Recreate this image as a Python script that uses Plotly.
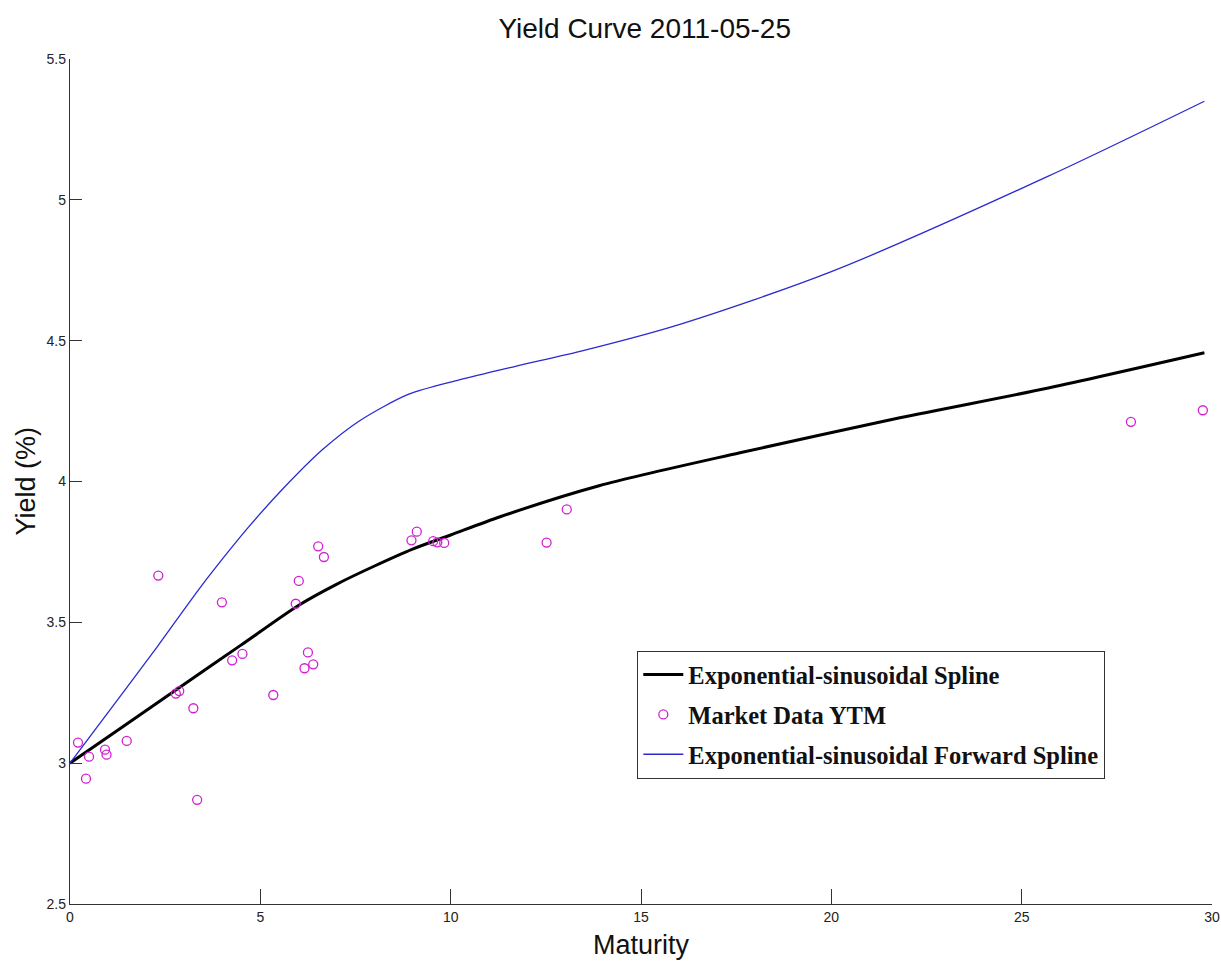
import plotly.graph_objects as go

# Market yields to maturity (years, %)
market_maturity = [0.21, 0.42, 0.50, 0.92, 0.96, 1.49, 2.32, 2.78, 2.87, 3.24, 3.34,
                   3.99, 4.26, 4.53, 5.34, 5.93, 6.01, 6.16, 6.25, 6.39, 6.52, 6.67,
                   8.97, 9.11, 9.54, 9.65, 9.83, 12.52, 13.05, 27.87, 29.76]
market_ytm = [3.073, 2.945, 3.023, 3.048, 3.030, 3.079, 3.666, 3.247, 3.256, 3.195, 2.870,
              3.571, 3.365, 3.388, 3.242, 3.566, 3.647, 3.337, 3.393, 3.351, 3.770, 3.732,
              3.791, 3.822, 3.788, 3.784, 3.782, 3.783, 3.901, 4.212, 4.253]

# Fitted exponential-sinusoidal spot curve
spot_maturity = [0.0, 1.5, 3.0, 4.5, 6.0, 7.0, 8.0, 9.0, 10.0, 11.3, 13.9, 17.6,
                 21.8, 25.7, 29.8]
spot_yield = [3.000, 3.140, 3.280, 3.420, 3.560, 3.635, 3.700, 3.760, 3.810, 3.875,
              3.985, 4.102, 4.226, 4.332, 4.457]

# Fitted exponential-sinusoidal forward curve
fwd_maturity = [0.0, 1.5, 2.3, 3.4, 4.2, 4.7, 5.6, 6.65, 7.6, 8.9, 10.2, 11.7, 13.4,
                16.0, 20.0, 25.7, 29.8]
fwd_yield = [3.000, 3.270, 3.415, 3.620, 3.758, 3.840, 3.975, 4.115, 4.215, 4.310,
             4.360, 4.409, 4.462, 4.557, 4.745, 5.084, 5.350]

x_ticks = [0, 5, 10, 15, 20, 25, 30]
y_ticks = [2.5, 3, 3.5, 4, 4.5, 5, 5.5]

fig = go.Figure()

fig.add_trace(go.Scatter(
    x=spot_maturity, y=spot_yield, mode="lines",
    name="Exponential-sinusoidal Spline", legendgroup="a",
    line=dict(color="black", width=3, shape="spline", smoothing=0.8),
))
fig.add_trace(go.Scatter(
    x=market_maturity, y=market_ytm, mode="markers",
    name="Market Data YTM", legendgroup="b",
    marker=dict(symbol="circle-open", size=9, color="#d020d0", line=dict(width=1.3)),
))
fig.add_trace(go.Scatter(
    x=fwd_maturity, y=fwd_yield, mode="lines",
    name="Exponential-sinusoidal Forward Spline", legendgroup="c",
    line=dict(color="#2a2ad0", width=1.3, shape="spline", smoothing=0.8),
))

axis_font = dict(family="Liberation Sans, Arial, sans-serif", size=14, color="#222")

fig.update_layout(
    width=1221, height=967,
    margin=dict(l=70, r=9, t=59, b=63, autoexpand=False),
    paper_bgcolor="white", plot_bgcolor="white",
    showlegend=True,
    title=dict(text="Yield Curve 2011-05-25", x=0.528, xanchor="center",
               y=1 - 28 / 967, yanchor="middle", yref="container",
               font=dict(family="Liberation Sans, Arial, sans-serif", size=28, color="#111")),
    xaxis=dict(range=[0, 30], tickvals=x_ticks, ticks="inside", ticklen=15,
               tickcolor="#333", tickwidth=1.3, showline=True, linecolor="#333",
               linewidth=1.3, showgrid=False, zeroline=False, tickfont=axis_font,
               mirror=False, automargin=False),
    yaxis=dict(range=[2.5, 5.5], tickvals=y_ticks, ticktext=[str(v) for v in y_ticks],
               ticks="inside", ticklen=12,
               tickcolor="#333", tickwidth=1.3, showline=True, linecolor="#333",
               linewidth=1.3, showgrid=False, zeroline=False, tickfont=axis_font,
               mirror=False, automargin=False),
    legend=dict(x=0.4965, y=0.2996, xanchor="left", yanchor="top",
                bgcolor="white", bordercolor="#333", borderwidth=1.3,
                tracegroupgap=5, itemwidth=40,
                font=dict(family="Liberation Serif, Times New Roman, serif", size=24.5,
                          color="#111", weight="bold")),
    annotations=[
        dict(text="Maturity", xref="paper", yref="paper", x=0.5, y=0, yshift=-41,
             xanchor="center", yanchor="middle", showarrow=False,
             font=dict(family="Liberation Sans, Arial, sans-serif", size=27, color="#111")),
        dict(text="Yield (%)", xref="paper", yref="paper", x=0, y=0.5, xshift=-45,
             xanchor="center", yanchor="middle", textangle=-90, showarrow=False,
             font=dict(family="Liberation Sans, Arial, sans-serif", size=27, color="#111")),
    ],
)

fig.write_html("out.html")
